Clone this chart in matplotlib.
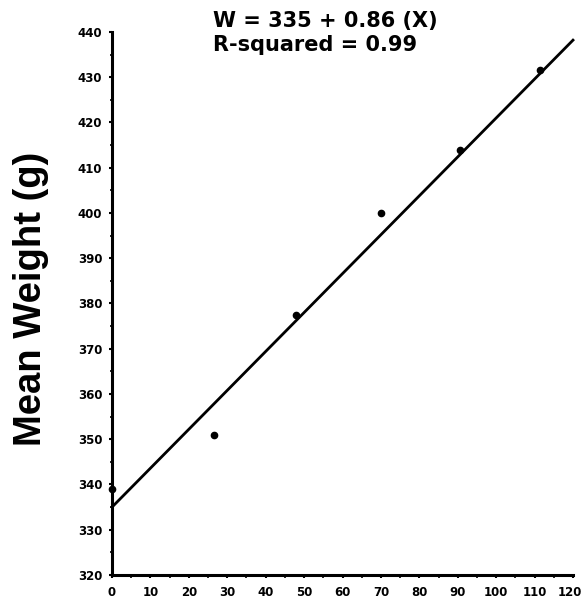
import matplotlib
matplotlib.use("Agg")
import matplotlib.pyplot as plt
import matplotlib.transforms as mtransforms
import numpy as np
from matplotlib.ticker import MultipleLocator

days = [0, 26.5, 48, 70, 90.5, 111.5]
weights = [339, 351, 377.5, 400, 414, 431.5]
intercept = 335
slope = 0.86
xticks = list(range(0, 121, 10))
yticks = list(range(320, 441, 10))

plt.rcParams['font.family'] = ['Liberation Sans', 'DejaVu Sans']

fig = plt.figure(figsize=(5.83, 6.02), dpi=100)
ax = fig.add_axes([112 / 583, 1 - 575 / 602, 461 / 583, 543 / 602])

xl = np.array([0, 120])
ax.plot(xl, intercept + slope * xl, color='black', lw=2.0, clip_on=False)
ax.plot(days, weights, 'o', color='black', ms=4.5, clip_on=False)

ax.set_xlim(0, 120)
ax.set_ylim(320, 440)
ax.set_xticks(xticks)
ax.set_yticks(yticks)
ax.xaxis.set_minor_locator(MultipleLocator(5))
ax.yaxis.set_minor_locator(MultipleLocator(5))
for s in ['top', 'right']:
    ax.spines[s].set_visible(False)
for s in ['left', 'bottom']:
    ax.spines[s].set_linewidth(2.2)
ax.tick_params(which='major', direction='out', length=2.5, width=1.5)
ax.tick_params(which='minor', direction='out', length=1.8, width=1.2)
ax.tick_params(axis='x', which='major', pad=5.5)
ax.tick_params(axis='y', which='major', pad=4.5)
for lbl in ax.get_xticklabels() + ax.get_yticklabels():
    lbl.set_fontweight('bold')
    lbl.set_fontfamily('DejaVu Sans')
    lbl.set_fontsize(8.5)

# nudge the last x tick label so it stays inside the figure
last = ax.get_xticklabels()[-1]
last.set_transform(last.get_transform() +
                   mtransforms.ScaledTranslation(-3.5 / 100, 0, fig.dpi_scale_trans))

ax.set_ylabel('Mean Weight (g)', fontsize=27.5, fontweight='bold')
ax.yaxis.set_label_coords(-0.137, 0.508)

fig.text(213 / 583, 1 - 20.5 / 602, 'W = 335 + 0.86 (X)', ha='left', va='center',
         fontsize=15, fontweight='bold', family='DejaVu Sans')
fig.text(213 / 583, 1 - 45 / 602, 'R-squared = 0.99', ha='left', va='center',
         fontsize=15, fontweight='bold', family='DejaVu Sans')

fig.savefig('out.png', dpi=100)
